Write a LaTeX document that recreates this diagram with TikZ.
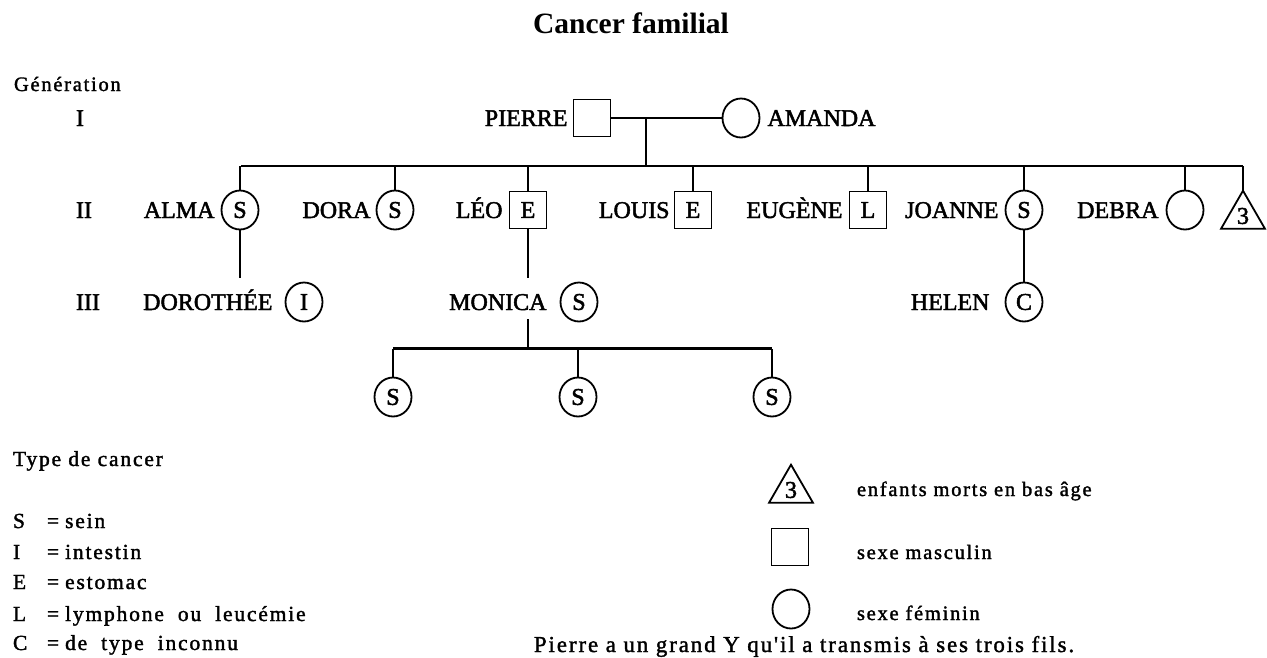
\documentclass[tikz,border=0pt]{standalone}
\usepackage{fontspec}
\setmainfont{Liberation Serif}
\newfontfamily\namefont[FakeBold=2]{Liberation Serif}
\newfontfamily\spacedfont[LetterSpace=8.5,FakeBold=1.6]{Liberation Serif}
\newcommand\wsp{\hspace{14pt}}
\usetikzlibrary{shapes.geometric,positioning}

\begin{document}
\begin{tikzpicture}[x=1pt,y=-1pt,
  every node/.style={inner sep=0pt, outer sep=0pt},
  person/.style={draw, line width=1.8pt, font=\namefont\fontsize{24}{28}\selectfont},
  fem/.style={person, ellipse, minimum width=37pt, minimum height=39pt},
  masc/.style={person, rectangle, minimum size=37pt},
  lost/.style={person, regular polygon, regular polygon sides=3, minimum size=50.6pt},
  nm/.style={font=\namefont\fontsize{24}{28}\selectfont, text height=16pt, text depth=0pt, anchor=east},
  lg/.style={font=\spacedfont\fontsize{20.5}{24}\selectfont, text height=14pt, text depth=4pt, anchor=west},
  lgl/.style={lg, font=\spacedfont\fontsize{21.5}{25}\selectfont},
  rail/.style={line width=2.6pt},
  link/.style={line width=1.8pt}]
\useasboundingbox (0,0) rectangle (1267,657);

% title and generation labels
\node[font=\bfseries\fontsize{29.5}{33}\selectfont] (title) at (631,23) {Cancer familial};
\node[lg] (gen) at (14,86) {Génération};
\node[nm, anchor=west] (g1) at (76,118) {I};
\node[nm, anchor=west] (g2) at (76,210) {II};
\node[nm, anchor=west] (g3) at (76,302) {III};

% generation I
\node[masc] (pierre) at (592,118) {};
\node[fem] (amanda) at (741,118) {};
\node[nm, left=6pt of pierre] (pierreName) {PIERRE};
\node[nm, right=8pt of amanda] (amandaName) {AMANDA};
\coordinate (union) at (646,118);
\coordinate (sibL) at (241,166);
\coordinate (sibR) at (1243,166);
\draw[link] (pierre) -- (amanda);
\draw[link] (union) -- (union |- sibL);
\draw[rail] (sibL) -- (sibR);

% generation II
\node[fem]  (alma)   at (240,210) {S};
\node[fem]  (dora)   at (395,210) {S};
\node[masc] (leo)    at (528,210) {E};
\node[masc] (louis)  at (693,210) {E};
\node[masc] (eugene) at (868,210) {L};
\node[fem]  (joanne) at (1024,210) {S};
\node[fem]  (debra)  at (1185,210) {};
\node[lost] (lost)   at (1243,216) {3};
\node[nm, left=7pt of alma]   {ALMA};
\node[nm, left=6pt of dora]   {DORA};
\node[nm, left=7pt of leo]    {LÉO};
\node[nm, left=5pt of louis]  {LOUIS};
\node[nm, left=7pt of eugene] {EUGÈNE};
\node[nm, left=7pt of joanne] {JOANNE};
\node[nm, left=8pt of debra]  {DEBRA};
\foreach \n in {alma,dora,leo,louis,eugene,joanne,debra}
  \draw[link] (\n.north) -- (\n.north |- sibL);
\draw[link] (lost.corner 1) -- (lost.corner 1 |- sibL);

% generation III
\node[fem] (dorothee) at (304,302) {I};
\node[fem] (monica)   at (579,302) {S};
\node[fem] (helen)    at (1024,302) {C};
\node[nm, left=13pt of dorothee] {DOROTHÉE};
\node[nm, left=14pt of monica]   {MONICA};
\node[nm, left=16pt of helen]    {HELEN};
\coordinate (almaEnd) at (240,278);
\draw[link] (alma.south) -- (almaEnd);
\draw[link] (leo.south) -- (leo.south |- almaEnd);
\draw[link] (joanne.south) -- (helen.north);

% Monica's children
\coordinate (monDrop) at (528,319);
\coordinate (sib3L) at (393,348.5);
\coordinate (sib3R) at (772,348.5);
\node[fem] (gc1) at (393,397) {S};
\node[fem] (gc2) at (578,397) {S};
\node[fem] (gc3) at (772,397) {S};
\draw[link] (monDrop) -- (monDrop |- sib3L);
\draw[rail] (sib3L) -- (sib3R);
\foreach \n in {gc1,gc2,gc3}
  \draw[link] (\n.north) -- (\n.north |- sib3L);

% cancer types
\node[lgl] (typeHead) at (13,461) {Type de cancer};
\node[lgl] (kS) at (13,523) {S}; \node[lgl] (dS) at (47,523) {=\hspace{6pt}sein};
\node[lgl] (kI) at (13,554) {I}; \node[lgl] (dI) at (47,554) {=\hspace{6pt}intestin};
\node[lgl] (kE) at (13,584) {E}; \node[lgl] (dE) at (47,584) {=\hspace{6pt}estomac};
\node[lgl] (kL) at (13,616) {L}; \node[lgl] (dL) at (47,616) {=\hspace{6pt}lymphone\wsp ou\wsp leucémie};
\node[lgl] (kC) at (13,645) {C}; \node[lgl] (dC) at (47,645) {=\hspace{6pt}de\wsp type\wsp inconnu};

% symbol key
\node[lost] (kLost) at (791,490) {3};
\node[masc] (kMasc) at (790,547) {};
\node[fem]  (kFem)  at (791,609) {};
\node[lg] (tLost) at (857,491) {enfants morts en bas âge};
\node[lg] (tMasc) at (857,554) {sexe masculin};
\node[lg] (tFem)  at (857,615) {sexe féminin};
\node[lg, font=\spacedfont\fontsize{22.8}{26}\selectfont] (note) at (534,647)
  {Pierre a un grand Y qu'il a transmis à ses trois fils.};
\end{tikzpicture}
\end{document}
